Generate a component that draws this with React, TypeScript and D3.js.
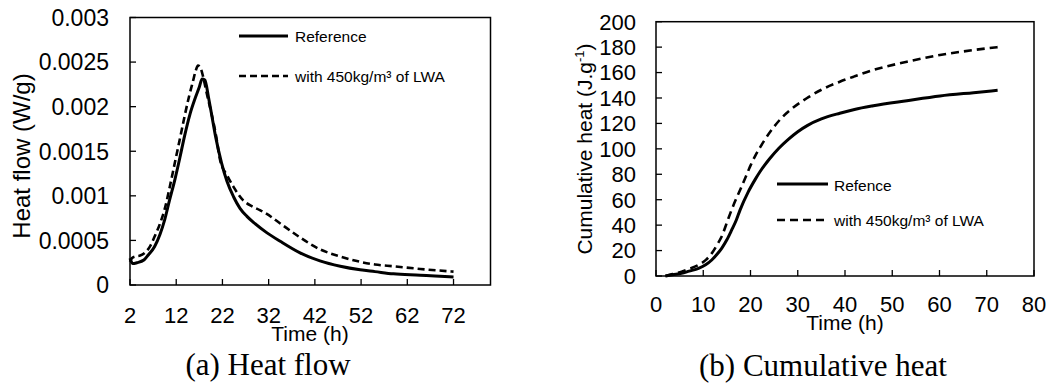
import * as d3 from "d3";

// ---- (a) heat flow data ----
const flowTimeRef = [2, 2.6, 3.5, 5, 6, 7.3, 8.5, 9.5, 10.5, 11.7, 12.8, 13.8, 15, 16, 17, 17.6, 18.2, 19, 19.6, 20.5, 21.8, 23, 24.4, 25.8, 27.3, 29, 31.5, 34.5, 38.8, 43.1, 47.5, 51.8, 55, 59, 64.8, 68, 72];
const flowRef = [0.0003, 0.00024, 0.00025, 0.00028, 0.00034, 0.00043, 0.00057, 0.00073, 0.00094, 0.00118, 0.00143, 0.00167, 0.00192, 0.00208, 0.00222, 0.00231, 0.0023, 0.0021, 0.00193, 0.00167, 0.00137, 0.00116, 0.00099, 0.00086, 0.00077, 0.00069, 0.00059, 0.00049, 0.00036, 0.00027, 0.00021, 0.00017, 0.00015, 0.000125, 0.00011, 0.0001, 0.00009];
const flowTimeLwa = [2, 2.4, 3.2, 4.2, 5.2, 6.3, 7.3, 8.5, 9.5, 10.6, 11.7, 12.8, 13.8, 14.8, 15.6, 16.2, 16.7, 17.3, 17.8, 18.6, 19.6, 20.6, 21.5, 23, 24.4, 26.5, 28.5, 30.1, 31.5, 34.5, 38.6, 43.1, 47.5, 51.8, 55, 59, 64.8, 72];
const flowLwa = [0.00026, 0.0003, 0.00032, 0.00033, 0.00036, 0.00043, 0.00054, 0.00069, 0.00085, 0.0011, 0.00137, 0.00164, 0.00189, 0.00212, 0.00228, 0.0024, 0.00246, 0.00243, 0.00234, 0.00215, 0.00193, 0.00168, 0.0014, 0.00123, 0.0011, 0.00095, 0.00088, 0.00084, 0.0008, 0.00069, 0.00054, 0.0004, 0.00032, 0.00026, 0.00023, 0.00021, 0.00018, 0.00015];
const flowXTicks = [2, 12, 22, 32, 42, 52, 62, 72];
const flowYTicks = [0, 0.0005, 0.001, 0.0015, 0.002, 0.0025, 0.003];
const flowYLabels = ["0", "0.0005", "0.001", "0.0015", "0.002", "0.0025", "0.003"];

// ---- (b) cumulative heat data ----
const cumTimeRef = [2, 3.5, 5.4, 7, 9, 10.5, 11.8, 13, 13.9, 15, 16, 17, 17.8, 19.5, 21, 22, 24, 26, 28, 30, 32, 35, 38.9, 42, 46, 53.1, 60.1, 67.2, 72.3];
const cumRef = [0, 1, 2.1, 3.8, 6, 8.8, 12.6, 17.5, 21.8, 28.5, 36, 44, 52, 66, 76, 82, 92, 100.5, 107.5, 113.5, 118.3, 123.5, 128, 131, 133.9, 137.9, 141.6, 144.2, 146];
const cumTimeLwa = [2, 3.5, 5.4, 7, 9, 10.5, 11.8, 13, 13.9, 15, 16, 17, 17.8, 19, 19.9, 21, 22, 23, 24.8, 26.5, 28.4, 31.9, 35, 38.9, 42, 46, 53.1, 60.1, 67.2, 72.3];
const cumLwa = [0, 1.5, 3.4, 5.5, 8.7, 12.5, 17.8, 25, 31, 42, 52, 61, 67.6, 78, 86, 94.5, 101, 107, 116.5, 124, 130.5, 139.8, 146.5, 152.8, 157, 162, 168.5, 173.8, 177.7, 180];
const cumXTicks = [0, 10, 20, 30, 40, 50, 60, 70, 80];
const cumYTicks = [0, 20, 40, 60, 80, 100, 120, 140, 160, 180, 200];

const SANS = "'Liberation Sans', Arial, sans-serif";
const SERIF = "'Liberation Serif', 'Times New Roman', serif";

function toPts ( t: number[], v: number[] ): [ number, number ][]
{
    return t.map( ( d, i ) => [ d, v[ i ] ] );
}

export default function App ()
{
    // left panel
    const fx = d3.scaleLinear().domain( [ 2, 80 ] ).range( [ 130, 490.5 ] );
    const fy = d3.scaleLinear().domain( [ 0, 0.003 ] ).range( [ 285, 17.5 ] );
    const fLine = d3.line<[ number, number ]>().x( d => fx( d[ 0 ] ) ).y( d => fy( d[ 1 ] ) ).curve( d3.curveMonotoneX );

    // right panel
    const cx = d3.scaleLinear().domain( [ 0, 80 ] ).range( [ 656, 1034 ] );
    const cy = d3.scaleLinear().domain( [ 0, 200 ] ).range( [ 276, 21.7 ] );
    const cLine = d3.line<[ number, number ]>().x( d => cx( d[ 0 ] ) ).y( d => cy( d[ 1 ] ) ).curve( d3.curveMonotoneX );

    const tickLen = 6;

    return (
        <svg width={ 1052 } height={ 385 } style={ { position: "absolute", left: 0, top: 0, background: "#fff" } }>
            {/* ---------- (a) Heat flow ---------- */}
            <g>
                <rect x={ fx( 2 ) } y={ fy( 0.003 ) } width={ fx( 80 ) - fx( 2 ) } height={ fy( 0 ) - fy( 0.003 ) } fill="none" stroke="#000" strokeWidth={ 1.5 } />
                { flowYTicks.map( ( t, i ) => (
                    <g key={ "fy" + i }>
                        <line x1={ fx( 2 ) } x2={ fx( 2 ) + tickLen } y1={ fy( t ) } y2={ fy( t ) } stroke="#000" strokeWidth={ 1.3 } />
                        <text x={ 109 } y={ fy( t ) } dy="0.36em" textAnchor="end" fontFamily={ SANS } fontSize={ 23 } fill="#000">{ flowYLabels[ i ] }</text>
                    </g>
                ) ) }
                { flowXTicks.map( t => (
                    <g key={ "fx" + t }>
                        <line x1={ fx( t ) } x2={ fx( t ) } y1={ fy( 0 ) } y2={ fy( 0 ) - tickLen } stroke="#000" strokeWidth={ 1.3 } />
                        <text x={ fx( t ) } y={ 323 } textAnchor="middle" fontFamily={ SANS } fontSize={ 22 } fill="#000">{ t }</text>
                    </g>
                ) ) }
                <path d={ fLine( toPts( flowTimeLwa, flowLwa ) ) ?? "" } fill="none" stroke="#000" strokeWidth={ 2.6 } strokeDasharray="7,4" />
                <path d={ fLine( toPts( flowTimeRef, flowRef ) ) ?? "" } fill="none" stroke="#000" strokeWidth={ 3 } />

                <text x={ 310 } y={ 341 } textAnchor="middle" fontFamily={ SANS } fontSize={ 21 } fill="#000">Time (h)</text>
                <text transform="translate(29.5,156) rotate(-90)" textAnchor="middle" fontFamily={ SANS } fontSize={ 24 } fill="#000">Heat flow (W/g)</text>
                <text x={ 268 } y={ 374.5 } textAnchor="middle" fontFamily={ SERIF } fontSize={ 31 } fill="#000">(a) Heat flow</text>

                {/* legend */}
                <line x1={ 239 } x2={ 288 } y1={ 36 } y2={ 36 } stroke="#000" strokeWidth={ 3 } />
                <text x={ 295 } y={ 42 } fontFamily={ SANS } fontSize={ 15.5 } fill="#000">Reference</text>
                <line x1={ 239 } x2={ 288 } y1={ 76 } y2={ 76 } stroke="#000" strokeWidth={ 2.6 } strokeDasharray="7,4" />
                <text x={ 295 } y={ 82 } fontFamily={ SANS } fontSize={ 15.5 } fill="#000">with 450kg/m³ of LWA</text>
            </g>

            {/* ---------- (b) Cumulative heat ---------- */}
            <g>
                <rect x={ cx( 0 ) } y={ cy( 200 ) } width={ cx( 80 ) - cx( 0 ) } height={ cy( 0 ) - cy( 200 ) } fill="none" stroke="#000" strokeWidth={ 1.5 } />
                { cumYTicks.map( t => (
                    <g key={ "cy" + t }>
                        <line x1={ cx( 0 ) } x2={ cx( 0 ) + tickLen } y1={ cy( t ) } y2={ cy( t ) } stroke="#000" strokeWidth={ 1.3 } />
                        <text x={ 636 } y={ cy( t ) } dy="0.36em" textAnchor="end" fontFamily={ SANS } fontSize={ 22 } fill="#000">{ t }</text>
                    </g>
                ) ) }
                { cumXTicks.map( t => (
                    <g key={ "cx" + t }>
                        <line x1={ cx( t ) } x2={ cx( t ) } y1={ cy( 0 ) } y2={ cy( 0 ) - tickLen } stroke="#000" strokeWidth={ 1.3 } />
                        <text x={ cx( t ) } y={ 311.5 } textAnchor="middle" fontFamily={ SANS } fontSize={ 22 } fill="#000">{ t }</text>
                    </g>
                ) ) }
                <path d={ cLine( toPts( cumTimeLwa, cumLwa ) ) ?? "" } fill="none" stroke="#000" strokeWidth={ 2.6 } strokeDasharray="8,5" />
                <path d={ cLine( toPts( cumTimeRef, cumRef ) ) ?? "" } fill="none" stroke="#000" strokeWidth={ 3 } />

                <text x={ 845 } y={ 329.5 } textAnchor="middle" fontFamily={ SANS } fontSize={ 21 } fill="#000">Time (h)</text>
                <text transform="translate(591.5,149) rotate(-90)" textAnchor="middle" fontFamily={ SANS } fontSize={ 21 } fill="#000">
                    Cumulative heat (J.g<tspan fontSize={ 13 } dy={ -8 }>-1</tspan><tspan dy={ 8 }>)</tspan>
                </text>
                <text x={ 823 } y={ 375.5 } textAnchor="middle" fontFamily={ SERIF } fontSize={ 31 } fill="#000">(b) Cumulative heat</text>

                {/* legend */}
                <line x1={ 777 } x2={ 828 } y1={ 184 } y2={ 184 } stroke="#000" strokeWidth={ 3 } />
                <text x={ 834 } y={ 190.5 } fontFamily={ SANS } fontSize={ 15.5 } fill="#000">Refence</text>
                <line x1={ 777 } x2={ 828 } y1={ 220 } y2={ 220 } stroke="#000" strokeWidth={ 2.6 } strokeDasharray="8,5" />
                <text x={ 834 } y={ 226 } fontFamily={ SANS } fontSize={ 15.5 } fill="#000">with 450kg/m³ of LWA</text>
            </g>
        </svg>
    );
}
